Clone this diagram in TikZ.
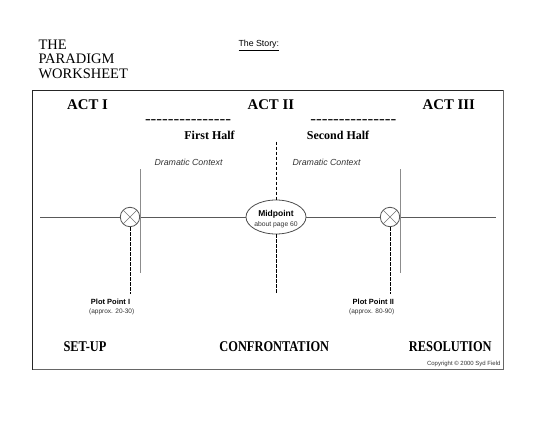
\documentclass[tikz,border=0pt]{standalone}
\usepackage{fontspec}
\setmainfont{Liberation Serif}
\setsansfont{Liberation Sans}
\usepackage{graphicx}
\usetikzlibrary{shapes.geometric}
\newcommand{\dashrow}{-{}-{}-{}-{}-{}-{}-{}-{}-{}-{}-{}-{}-{}-{}-}
\begin{document}
\begin{tikzpicture}[x=1pt,y=-1pt,
  txt/.style={inner sep=0pt, anchor=base},
  act/.style={txt, font=\fontsize{14.8}{16}\selectfont\bfseries},
  half/.style={txt, font=\fontsize{12}{14}\selectfont\bfseries},
  phase/.style={txt, font=\fontsize{12.4}{14}\selectfont\bfseries},
  head/.style={inner sep=0pt, anchor=base west, font=\fontsize{14.5}{16}\selectfont},
  ctx/.style={inner sep=0pt, anchor=base west, text=black!80, font=\sffamily\itshape\fontsize{8.8}{10}\selectfont},
  ppt/.style={txt, font=\sffamily\bfseries\fontsize{7.5}{9}\selectfont},
  appr/.style={txt, text=black!80, font=\sffamily\fontsize{6.5}{8}\selectfont},
  pp/.style={circle, draw=black!65, line width=0.8pt, minimum size=19.4pt, inner sep=0pt,
    path picture={\draw[black!55, line width=0.6pt]
      (path picture bounding box.north east) -- (path picture bounding box.south west)
      (path picture bounding box.north west) -- (path picture bounding box.south east);}},
  axis/.style={draw=black!65, line width=0.8pt},
  ctxline/.style={draw=black!45, line width=0.9pt},
  dashline/.style={draw=black, line width=1pt, dash pattern=on 3.5pt off 1.5pt},
]
\useasboundingbox (0,0) rectangle (551,425);

% header
\node[head] (h1) at (38.3,49.3) {THE};
\node[head] (h2) at (38.3,64) {PARADIGM};
\node[head] (h3) at (38.3,79) {WORKSHEET};
\node[inner sep=0pt, anchor=base west, font=\sffamily\fontsize{8.8}{10}\selectfont] (story) at (238.3,46.7) {\underline{The Story:}};

% frame
\coordinate (bxa) at (32.5,90.5);
\coordinate (bxb) at (503.5,369.5);
\coordinate (bxc) at (503.5,90.5);
\coordinate (bxd) at (32.5,369.5);
\draw[line width=0.9pt, black!85] (bxa) rectangle (bxb);
\draw[line width=1.8pt, black!60] (bxc) -- (bxb) -- (bxd);

% acts
\node[act] (a1) at (87.5,109.5) {ACT I};
\node[act] (a2) at (270.8,109.5) {ACT II};
\node[act] (a3) at (448.8,109.5) {ACT III};
\node[txt, font=\fontsize{14}{16}\selectfont\bfseries] (d1) at (188,123.7) {\resizebox{86pt}{\height}{\dashrow}};
\node[txt, font=\fontsize{14}{16}\selectfont\bfseries] (d2) at (353.3,123.7) {\resizebox{86pt}{\height}{\dashrow}};
\node[half] (fh) at (209.5,139.3) {First Half};
\node[half] (sh) at (338,139.3) {Second Half};
\node[ctx] (c1) at (154.3,165.5) {Dramatic Context};
\node[ctx] (c2) at (292.3,165.5) {Dramatic Context};

% axis elements
\node[pp] (pp1) at (130,217) {};
\node[pp] (pp2) at (390,217) {};
\node[ellipse, draw=black!70, line width=0.8pt, minimum width=60pt, minimum height=34pt, inner sep=0pt] (mid) at (276,217) {};
\node[txt, font=\sffamily\bfseries\fontsize{8.5}{10}\selectfont] (midt) at (276,216.7) {Midpoint};
\node[txt, text=black!80, font=\sffamily\fontsize{6.8}{8}\selectfont] (midp) at (276,226) {about page 60};

\coordinate (hl) at (40,217);
\coordinate (hr) at (496,217);
\draw[axis] (hl) -- (pp1.west);
\draw[axis] (pp1.east) -- (mid.west);
\draw[axis] (mid.east) -- (pp2.west);
\draw[axis] (pp2.east) -- (hr);

\coordinate (v1t) at (140,169);
\coordinate (v1b) at (140,273);
\coordinate (v2t) at (400,169);
\coordinate (v2b) at (400,273);
\draw[ctxline] (v1t) -- (v1b);
\draw[ctxline] (v2t) -- (v2b);

\coordinate (ct) at (276,141.7);
\coordinate (cb) at (276,292.7);
\coordinate (p1b) at (130,294);
\coordinate (p2b) at (390,294);
\draw[dashline] (ct) -- (mid.north);
\draw[dashline] (mid.south) -- (cb);
\draw[dashline] (pp1.south) -- (p1b);
\draw[dashline] (pp2.south) -- (p2b);

% plot point labels
\node[ppt] (pl1) at (110.5,304.3) {Plot Point I};
\node[appr] (pa1) at (111.7,313) {(approx. 20-30)};
\node[ppt] (pl2) at (373.3,304.3) {Plot Point II};
\node[appr] (pa2) at (371.7,313) {(approx. 80-90)};

% phases
\node[phase] (s1) at (85,351) {\scalebox{1}[1.2]{SET-UP}};
\node[phase] (s2) at (274.3,351) {\scalebox{1}[1.2]{CONFRONTATION}};
\node[phase] (s3) at (450.3,351) {\scalebox{1}[1.2]{RESOLUTION}};

\node[inner sep=0pt, anchor=base east, text=black!80, font=\sffamily\fontsize{6}{7}\selectfont] (copy) at (500.7,365.7) {Copyright © 2000 Syd Field};
\end{tikzpicture}
\end{document}
